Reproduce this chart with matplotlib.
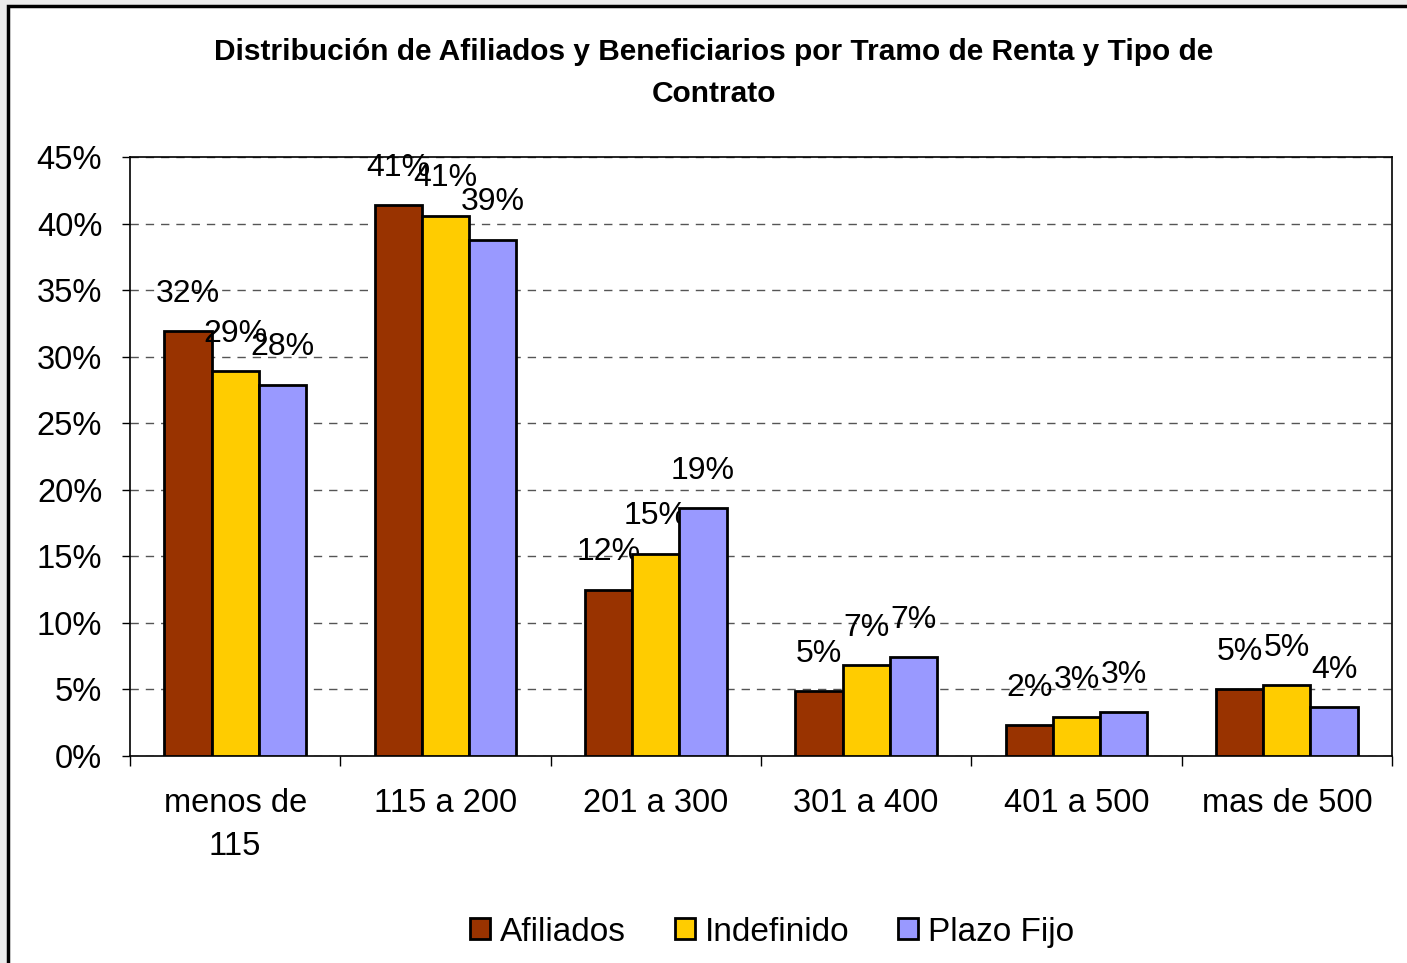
import numpy as np
import matplotlib.pyplot as plt
from matplotlib.patches import Rectangle

plt.rcParams['font.family'] = ['Liberation Sans', 'DejaVu Sans']

categorias = ["menos de\n115", "115 a 200", "201 a 300", "301 a 400", "401 a 500", "mas de 500"]
afiliados = [31.9, 41.4, 12.5, 4.9, 2.3, 5.0]
indefinido = [28.9, 40.6, 15.2, 6.8, 2.9, 5.3]
plazo_fijo = [27.9, 38.8, 18.6, 7.4, 3.3, 3.7]
series = [("Afiliados", afiliados, "#993300"),
          ("Indefinido", indefinido, "#FFCC00"),
          ("Plazo Fijo", plazo_fijo, "#9999FF")]

fig = plt.figure(figsize=(14.07, 9.63), dpi=100, facecolor="#ececec")
fig.patches.append(Rectangle((8 / 1407, -0.05), 1.05, 1.05 - 6 / 963,
                             transform=fig.transFigure, facecolor="white",
                             edgecolor="black", linewidth=2.5, zorder=-10))

ax = fig.add_axes([130 / 1407, 1 - 756 / 963, 1262 / 1407, 599 / 963])
x = np.arange(len(categorias))
w = 0.224
for i, (nombre, vals, color) in enumerate(series):
    pos = x + (i - 1) * w
    bars = ax.bar(pos, vals, w, color=color, edgecolor="black", linewidth=2,
                  label=nombre, zorder=3)
    for b, v in zip(bars, vals):
        ax.annotate(f"{v:.0f}%", (b.get_x() + b.get_width() / 2, v),
                    xytext=(0, 16), textcoords="offset points",
                    ha="center", va="bottom", fontsize=23)

ax.set_xlim(-0.5, len(categorias) - 0.5)
ax.set_ylim(0, 45)
ax.set_yticks(np.arange(0, 46, 5))
ax.set_yticklabels([f"{t}%" for t in range(0, 46, 5)], fontsize=23.5)
ax.set_xticks(x)
ax.set_xticklabels(categorias, fontsize=23.5, linespacing=1.5)
ax.set_xticks(np.arange(-0.5, len(categorias)), minor=True)
ax.tick_params(axis="x", which="major", length=0, pad=23)
ax.tick_params(axis="x", which="minor", length=7, width=1, direction="out")
ax.tick_params(axis="y", length=6, width=1, pad=14)
ax.yaxis.grid(True, linestyle=(0, (6, 5)), color="#555555", linewidth=1, zorder=0)
for s in ax.spines.values():
    s.set_linewidth(1.2)

fig.text(714 / 1407, 1 - 73 / 963,
         "Distribución de Afiliados y Beneficiarios por Tramo de Renta y Tipo de\nContrato",
         ha="center", va="center", fontsize=21.5, fontweight="bold", linespacing=1.6)

ax.legend(loc="center", bbox_to_anchor=(772 / 1407, 1 - 932 / 963), bbox_transform=fig.transFigure,
          ncol=3, frameon=False, fontsize=24, handlelength=0.6, handleheight=0.6,
          handletextpad=0.3, columnspacing=1.45)

fig.savefig("out.png", dpi=100, facecolor=fig.get_facecolor())
